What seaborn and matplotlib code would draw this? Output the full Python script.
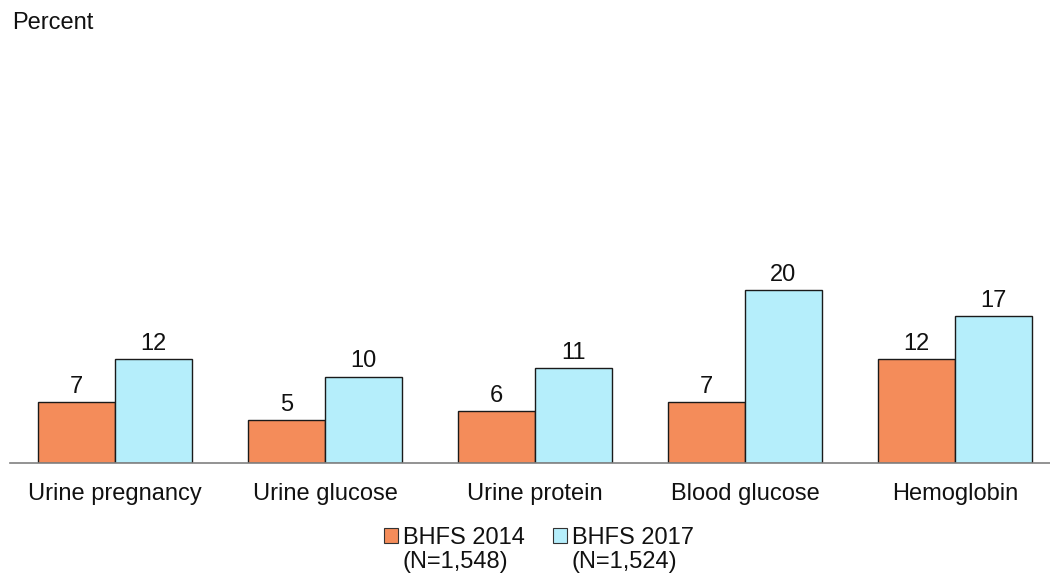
import matplotlib
matplotlib.use("Agg")
import matplotlib.pyplot as plt
import seaborn as sns
import pandas as pd
from matplotlib.patches import Patch

categories = ["Urine pregnancy", "Urine glucose", "Urine protein", "Blood glucose", "Hemoglobin"]
series_names = ["BHFS 2014", "BHFS 2017"]
series_notes = ["(N=1,548)", "(N=1,524)"]
values_2014 = [7, 5, 6, 7, 12]
values_2017 = [12, 10, 11, 20, 17]
colors = ["#F48C5A", "#B5EEFB"]

sns.set_theme(style="white")
plt.rcParams['font.family'] = ['Liberation Sans', 'DejaVu Sans']

FS = 17
W, H = 1050, 576

df = pd.DataFrame({
    "category": categories * 2,
    "series": [series_names[0]] * len(categories) + [series_names[1]] * len(categories),
    "value": values_2014 + values_2017,
})

fig = plt.figure(figsize=(W / 100, H / 100), dpi=100)
ax = fig.add_axes([10 / W, 113 / H, 1050 / W, 389 / H])

sns.barplot(data=df, x="category", y="value", hue="series", order=categories,
            hue_order=series_names, palette=colors, width=0.733, ax=ax,
            edgecolor="#1a1a1a", linewidth=1.0, legend=False, errorbar=None, saturation=1)

for c in ax.containers:
    ax.bar_label(c, labels=[f"{v:g}" for v in c.datavalues], padding=3, fontsize=FS, color="#111111")

ax.set_ylim(0, 45)
ax.set_xlim(-0.5, 4.5)
ax.set_xlabel("")
ax.set_ylabel("")
ax.set_yticks([])
for s in ["top", "right", "left"]:
    ax.spines[s].set_visible(False)
ax.spines["bottom"].set_color("#808080")
ax.spines["bottom"].set_linewidth(1.2)
ax.tick_params(axis="x", length=0, pad=14.5, labelsize=FS, labelcolor="#111111")

fig.text(12 / W, 1 - 23 / H, "Percent", fontsize=FS, ha="left", va="center", color="#111111")

handles = [Patch(facecolor=colors[i], edgecolor="#333333", linewidth=0.8) for i in range(2)]
leg = fig.legend(handles, series_names, loc="center", bbox_to_anchor=(539 / W, 1 - 538 / H),
                 ncol=2, frameon=False, fontsize=FS, handlelength=0.58, handleheight=0.58,
                 handletextpad=0.2, columnspacing=1.2, borderpad=0, borderaxespad=0)
for t in leg.get_texts():
    t.set_color("#111111")

fig.canvas.draw()
renderer = fig.canvas.get_renderer()
for t, note in zip(leg.get_texts(), series_notes):
    bb = t.get_window_extent(renderer)
    fig.text(bb.x0 / W, (bb.y0 + bb.y1) / 2 / H - 24 / H, note, fontsize=FS,
             ha="left", va="center", color="#111111")

fig.savefig("out.png", dpi=100)
